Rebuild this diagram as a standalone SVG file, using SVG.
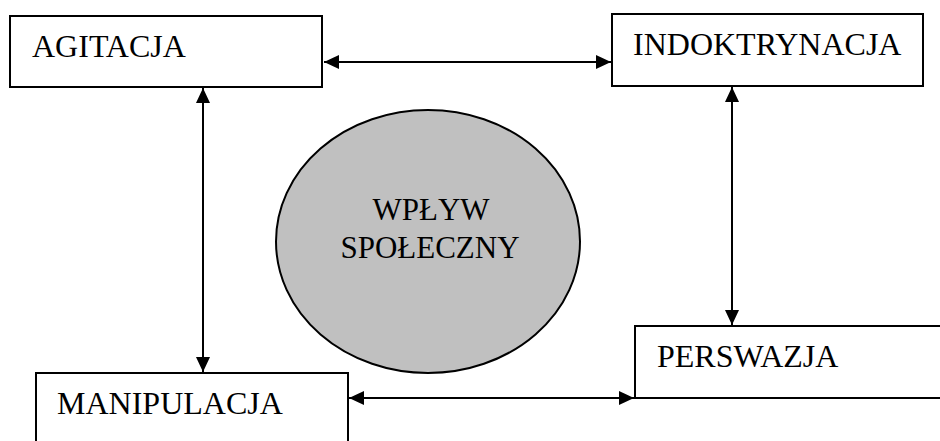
<svg xmlns="http://www.w3.org/2000/svg" width="940" height="441" viewBox="0 0 940 441">
<style>
.box{fill:#fff;stroke:#000;stroke-width:2}
.lbl{font-family:"Liberation Serif","Times New Roman",serif;font-size:32px;fill:#000}
.clbl{font-family:"Liberation Serif","Times New Roman",serif;font-size:31px;fill:#000}
.conn{stroke:#000;stroke-width:2;fill:none}
</style>
<defs>
<marker id="ah" viewBox="0 0 15 14" refX="15" refY="7" markerWidth="15" markerHeight="14" markerUnits="userSpaceOnUse" orient="auto-start-reverse">
<path d="M0,0 L15,7 L0,14 Z" fill="#000"/>
</marker>
</defs>
<rect width="940" height="441" fill="#fff"/>
<g id="center">
<ellipse cx="428" cy="241.5" rx="152" ry="131.5" fill="#c0c0c0" stroke="#000" stroke-width="2"/>
<text class="clbl" x="431" y="220" text-anchor="middle">WPŁYW</text>
<text class="clbl" x="430" y="258" text-anchor="middle">SPOŁECZNY</text>
</g>
<g id="agitacja">
<rect class="box" x="10" y="16" width="312" height="71"/>
<text class="lbl" x="32" y="57">AGITACJA</text>
</g>
<g id="indoktrynacja">
<rect class="box" x="612" y="14" width="311" height="72"/>
<text class="lbl" x="633" y="55">INDOKTRYNACJA</text>
</g>
<g id="manipulacja">
<rect class="box" x="36" y="373" width="312" height="80"/>
<text class="lbl" x="57" y="414">MANIPULACJA</text>
</g>
<g id="perswazja">
<rect class="box" x="635" y="326" width="320" height="72"/>
<text class="lbl" x="657" y="367">PERSWAZJA</text>
</g>
<g id="connectors">
<line class="conn" x1="324" y1="62" x2="611" y2="62" marker-start="url(#ah)" marker-end="url(#ah)"/>
<line class="conn" x1="203" y1="88" x2="203" y2="372" marker-start="url(#ah)" marker-end="url(#ah)"/>
<line class="conn" x1="732" y1="87" x2="732" y2="325" marker-start="url(#ah)" marker-end="url(#ah)"/>
<line class="conn" x1="349" y1="398" x2="634" y2="398" marker-start="url(#ah)" marker-end="url(#ah)"/>
</g>
</svg>
